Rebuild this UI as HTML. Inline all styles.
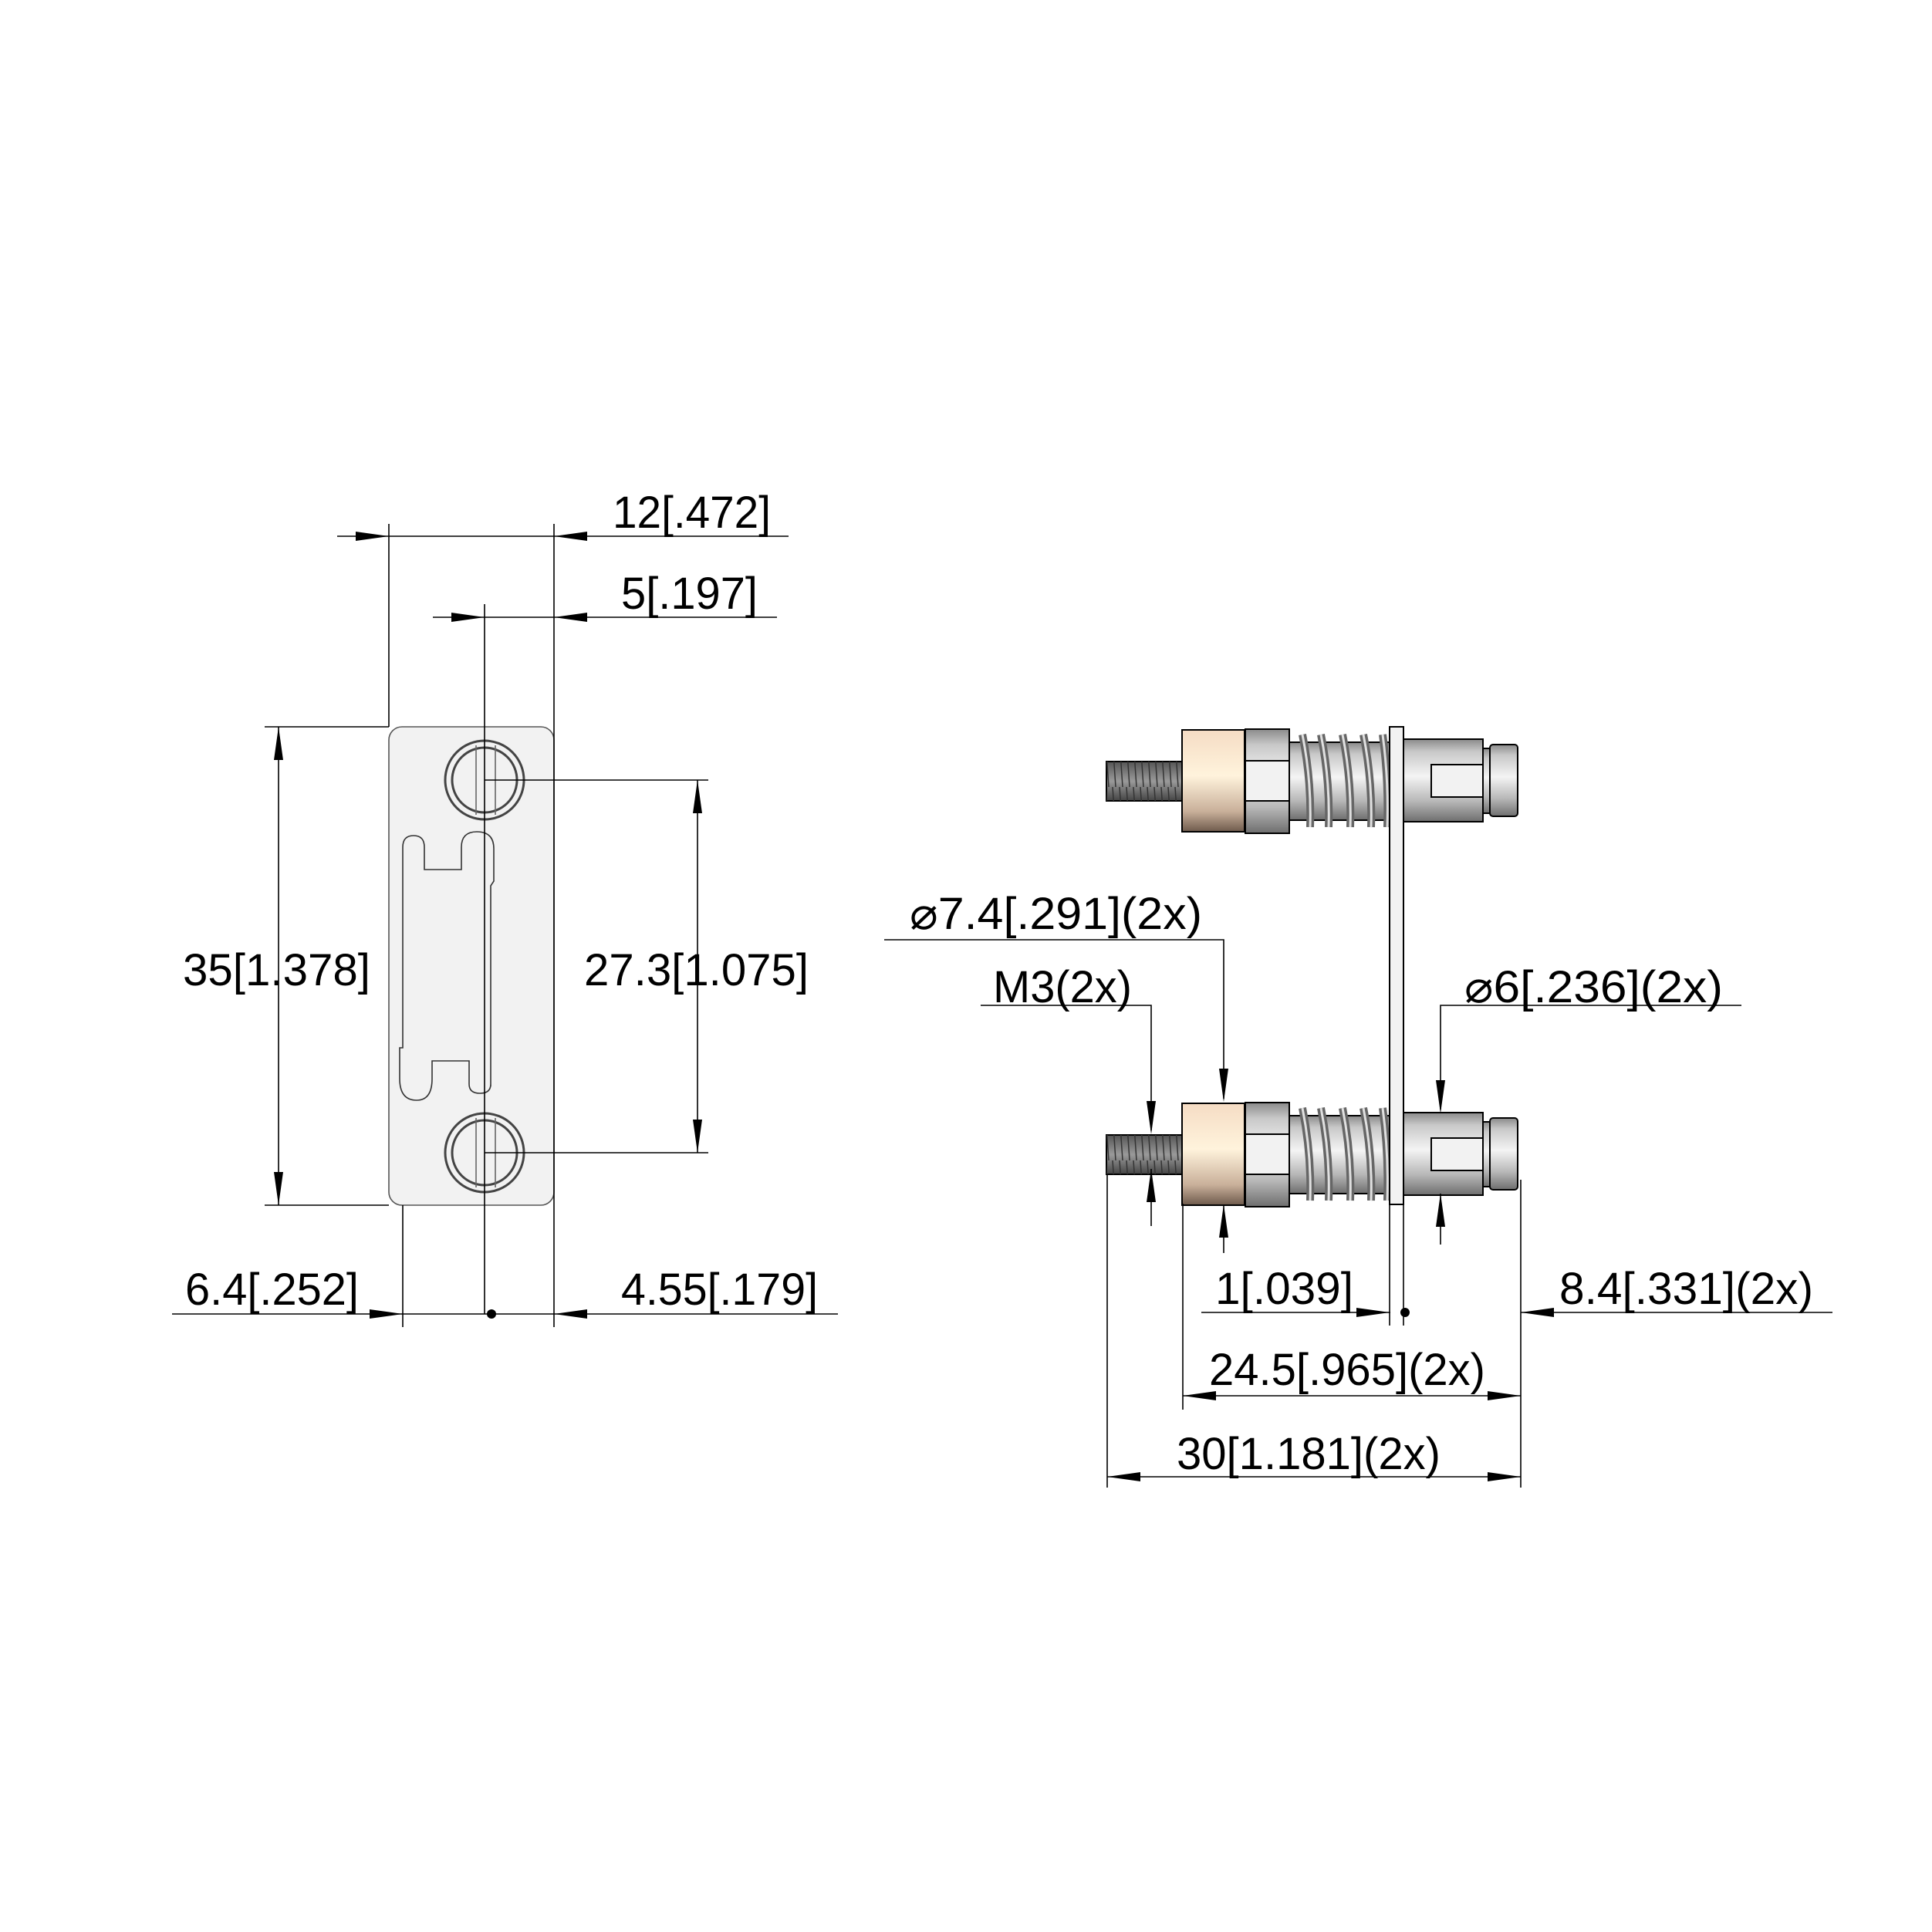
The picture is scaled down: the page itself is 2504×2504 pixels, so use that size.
<!DOCTYPE html>
<html><head><meta charset="utf-8"><style>html,body{margin:0;padding:0;background:#fff}svg{display:block}</style></head>
<body>
<svg width="2504" height="2504" viewBox="0 0 2504 2504" xmlns="http://www.w3.org/2000/svg">
<defs>
<linearGradient id="met" x1="0" y1="0" x2="0" y2="1">
<stop offset="0" stop-color="#8a8a8a"/><stop offset="0.15" stop-color="#c8c8c8"/><stop offset="0.45" stop-color="#f4f4f4"/><stop offset="0.75" stop-color="#b8b8b8"/><stop offset="1" stop-color="#6e6e6e"/>
</linearGradient>
<linearGradient id="tan" x1="0" y1="0" x2="0" y2="1">
<stop offset="0" stop-color="#f5dcc4"/><stop offset="0.45" stop-color="#fff3dc"/><stop offset="0.8" stop-color="#c9b09a"/><stop offset="1" stop-color="#6e5a4c"/>
</linearGradient>
<linearGradient id="thr" x1="0" y1="0" x2="0" y2="1">
<stop offset="0" stop-color="#555"/><stop offset="0.5" stop-color="#9a9a9a"/><stop offset="1" stop-color="#444"/>
</linearGradient>
<pattern id="thp" x="0" y="0" width="9" height="60" patternUnits="userSpaceOnUse">
<line x1="2" y1="0" x2="6" y2="60" stroke="#333" stroke-width="1.5"/>
</pattern>
<g id="asm" stroke="#000" stroke-width="2">
<rect x="1434" y="987" width="98" height="51" fill="url(#thr)"/>
<rect x="1434" y="987" width="98" height="51" fill="url(#thp)" stroke="none"/>
<rect x="1532" y="946" width="81" height="132" fill="url(#tan)"/>
<rect x="1614" y="945" width="57" height="135" fill="url(#met)"/>
<rect x="1614" y="986" width="57" height="52" fill="#f2f2f2"/>
<rect x="1671" y="962" width="131" height="101" fill="url(#met)"/>
<g fill="none" stroke="#666" stroke-width="10">
<path d="M1688 952 q12 60 10 120 M1712 952 q12 60 10 120 M1740 952 q12 60 10 120 M1767 952 q12 60 10 120 M1792 952 q8 60 6 120"/>
</g>
<g fill="none" stroke="#e0e0e0" stroke-width="3">
<path d="M1688 952 q12 60 10 120 M1712 952 q12 60 10 120 M1740 952 q12 60 10 120 M1767 952 q12 60 10 120 M1792 952 q8 60 6 120"/>
</g>
<rect x="1818" y="958" width="104" height="107" fill="url(#met)"/>
<rect x="1855" y="991" width="67" height="42" fill="#f2f2f2"/>
<rect x="1922" y="970" width="9" height="84" fill="url(#met)"/>
<rect x="1931" y="965" width="36" height="93" rx="4" fill="url(#met)"/>
</g>
</defs>

<g fill="none" stroke="#000" stroke-width="1.6">
<!-- left plate view -->
<rect x="504" y="942" width="214" height="620" rx="17" fill="#f2f2f2" stroke="#555"/>
<path d="M522 1098 q0 -15 14 -15 q14 0 14 15 v29 h48 v-29 q0 -20 20 -20 q22 0 22 22 v42 l-4 6 v260 M522 1098 v260 h-4 v40 q0 28 22 28 q20 0 20 -28 v-23 h48 v30 q0 12 14 12 q14 0 14 -12 v-25" stroke="#333"/>
<g stroke="#444" stroke-width="3" fill="#f2f2f2">
<circle cx="628" cy="1011" r="51"/><circle cx="628" cy="1011" r="42"/>
<circle cx="628" cy="1494" r="51"/><circle cx="628" cy="1494" r="42"/>
</g>
<path d="M617 966 v90 M642 966 v90 M617 1449 v90 M642 1449 v90" stroke="#666"/>
<!-- ext lines -->
<path d="M504 679 V942 M718 679 V1720 M628 783 V1703 M522 1562 V1720 M343 942 H504 M343 1562 H504 M628 1011 H918 M628 1494 H918"/>
<path d="M437 695 H1022 M561 800 H1007 M361 942 V1562 M904 1011 V1494 M223 1703 H1086"/>
</g>
<g fill="#000">
<polygon points="504,695 461,689 461,701"/><polygon points="718,695 761,689 761,701"/>
<polygon points="628,800 585,794 585,806"/><polygon points="718,800 761,794 761,806"/>
<polygon points="361,942 355,985 367,985"/><polygon points="361,1562 355,1519 367,1519"/>
<polygon points="904,1011 898,1054 910,1054"/><polygon points="904,1494 898,1451 910,1451"/>
<polygon points="522,1703 479,1697 479,1709"/><polygon points="718,1703 761,1697 761,1709"/>
<circle cx="637" cy="1703" r="6"/>
</g>

<!-- right assemblies -->
<use href="#asm"/>
<use href="#asm" y="484"/>
<rect x="1801" y="942" width="18" height="619" fill="#f2f2f2" stroke="#000" stroke-width="2"/>

<g fill="none" stroke="#000" stroke-width="1.6">
<path d="M1801 1561 V1718 M1819 1561 V1718 M1533 1560 V1827 M1435 1522 V1928 M1971 1529 V1928"/>
<path d="M1146 1218 H1586 V1424 M1586 1561 V1624 M1271 1303 H1492 V1465 M1492 1515 V1589 M2257 1303 H1867 V1438 M1867 1547 V1613"/>
<path d="M1557 1701 H1802 M1971 1701 H2375 M1533 1809 H1971 M1435 1914 H1971"/>
</g>
<g fill="#000">
<polygon points="1586,1428 1580,1385 1592,1385"/><polygon points="1586,1561 1580,1604 1592,1604"/>
<polygon points="1492,1470 1486,1427 1498,1427"/><polygon points="1492,1515 1486,1558 1498,1558"/>
<polygon points="1867,1443 1861,1400 1873,1400"/><polygon points="1867,1547 1861,1590 1873,1590"/>
<polygon points="1801,1701 1758,1695 1758,1707"/><polygon points="1971,1701 2014,1695 2014,1707"/>
<circle cx="1821" cy="1701" r="6"/>
<polygon points="1533,1809 1576,1803 1576,1815"/><polygon points="1971,1809 1928,1803 1928,1815"/>
<polygon points="1435,1914 1478,1908 1478,1920"/><polygon points="1971,1914 1928,1908 1928,1920"/>
</g>

<g font-family="Liberation Sans, sans-serif" font-size="58" fill="#000">
<text x="794" y="684" textLength="205" lengthAdjust="spacingAndGlyphs">12[.472]</text>
<text x="805" y="789" textLength="177" lengthAdjust="spacingAndGlyphs">5[.197]</text>
<text x="237" y="1277" textLength="243" lengthAdjust="spacingAndGlyphs">35[1.378]</text>
<text x="757" y="1277" textLength="291" lengthAdjust="spacingAndGlyphs">27.3[1.075]</text>
<text x="240" y="1691" textLength="225" lengthAdjust="spacingAndGlyphs">6.4[.252]</text>
<text x="805" y="1691" textLength="255" lengthAdjust="spacingAndGlyphs">4.55[.179]</text>
<text x="1179" y="1204" textLength="379" lengthAdjust="spacingAndGlyphs">⌀7.4[.291](2x)</text>
<text x="1287" y="1299" textLength="180" lengthAdjust="spacingAndGlyphs">M3(2x)</text>
<text x="1898" y="1299" textLength="335" lengthAdjust="spacingAndGlyphs">⌀6[.236](2x)</text>
<text x="1575" y="1690" textLength="179" lengthAdjust="spacingAndGlyphs">1[.039]</text>
<text x="2021" y="1690" textLength="329" lengthAdjust="spacingAndGlyphs">8.4[.331](2x)</text>
<text x="1567" y="1795" textLength="358" lengthAdjust="spacingAndGlyphs">24.5[.965](2x)</text>
<text x="1525" y="1904" textLength="342" lengthAdjust="spacingAndGlyphs">30[1.181](2x)</text>
</g>
</svg>
</body></html>
